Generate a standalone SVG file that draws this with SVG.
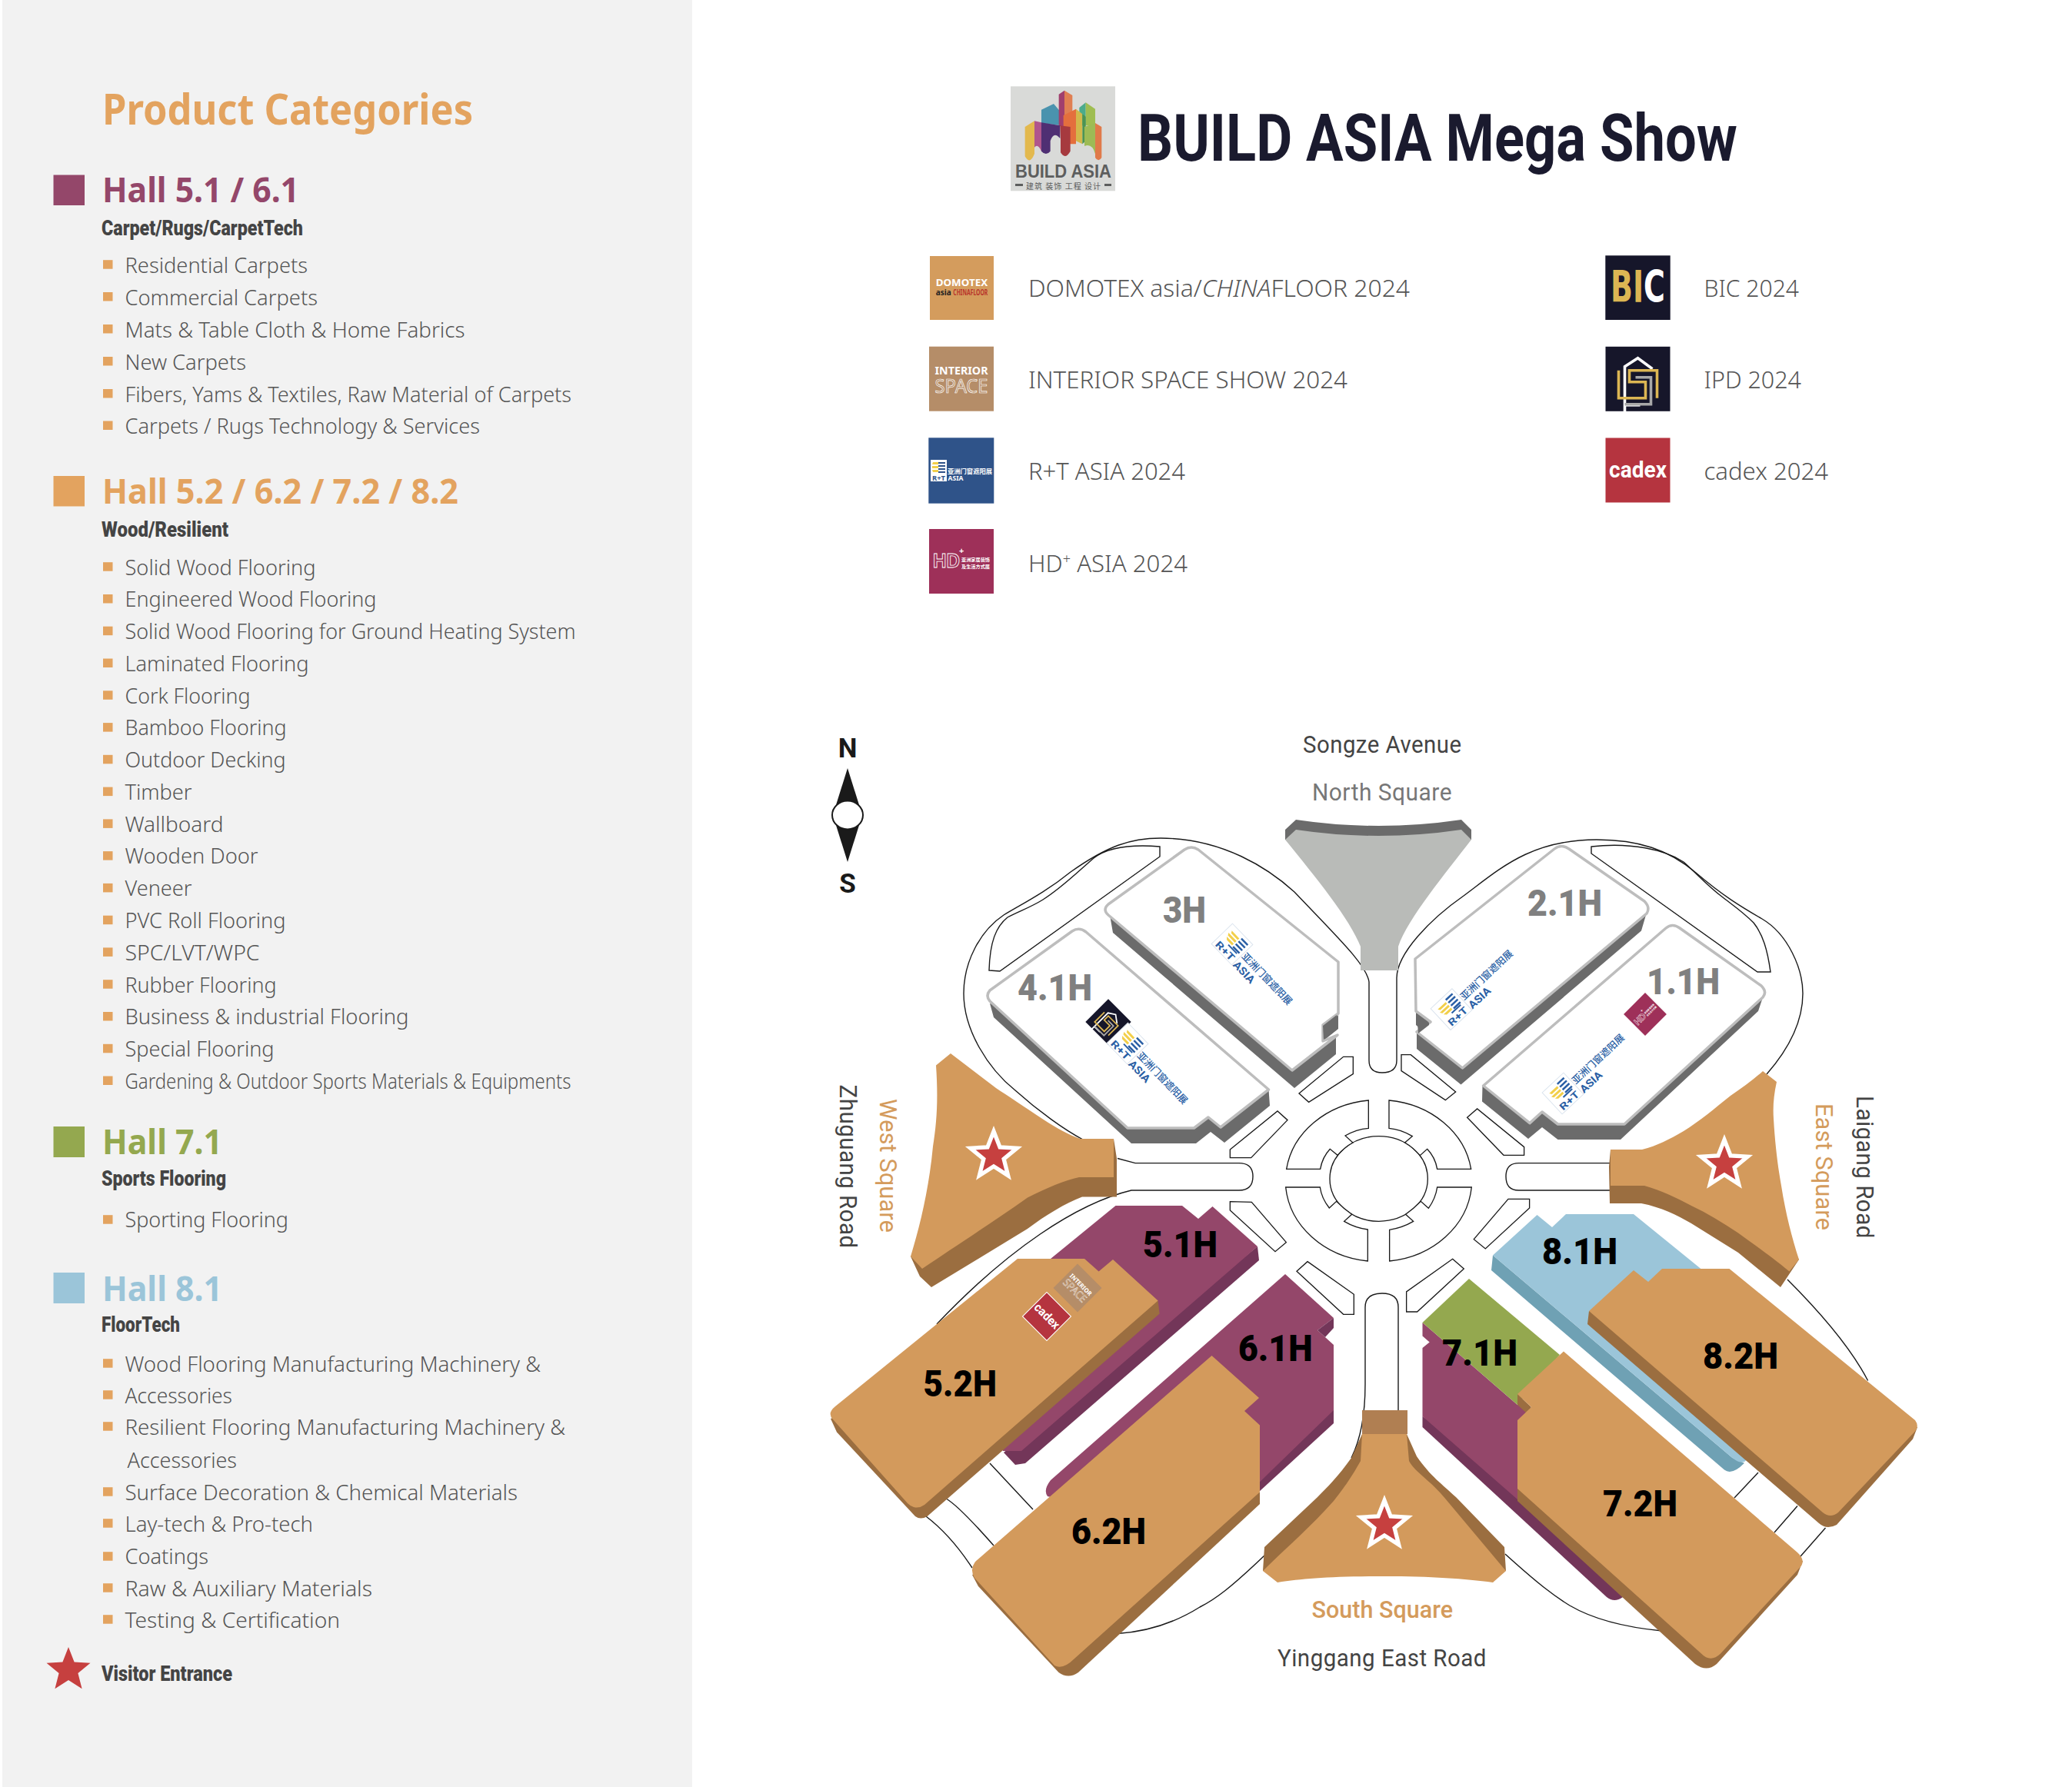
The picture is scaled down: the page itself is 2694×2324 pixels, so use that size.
<svg xmlns="http://www.w3.org/2000/svg" width="2694" height="2324" viewBox="0 0 2694 2324">
<style>
text{font-family:"Noto Sans","Liberation Sans",sans-serif}
.ttl{font-size:55px;font-weight:700;fill:#e3a35f}
.hl{font-size:45px;font-weight:700}
.sub{font-family:Roboto,"Liberation Sans",sans-serif;font-size:28px;font-weight:900;fill:#444}
.i{font-size:28px;font-weight:300;fill:#555}
.b{fill:#e3a35f}
.sw{fill:#e3a35f}
.lab{font-size:31px;font-weight:300;fill:#555}
.road{font-family:Roboto,"Liberation Sans",sans-serif;font-size:31px;fill:#444;letter-spacing:.5px}
.sq{font-family:Roboto,"Liberation Sans",sans-serif;font-size:31px;fill:#d49b5c;font-weight:500}
.hg{font-family:Roboto,"Liberation Sans",sans-serif;font-size:48px;font-weight:900;fill:#808080}
.hb{font-family:Roboto,"Liberation Sans",sans-serif;font-size:48px;font-weight:900;fill:#000}
.out{fill:none;stroke:#1a1a1a;stroke-width:1.4}
.blk{fill:#fff;stroke:#1a1a1a;stroke-width:4}
.wt{fill:#fff;stroke:#bdbdbd;stroke-width:3.5;stroke-linejoin:round}
.gs{fill:#6b6b6b}
.or{fill:#d39a5c}
.ors{fill:#9b6e40}
.pu{fill:#94476a}
.pus{fill:#733659}
.star{fill:#c6403f}
.st2{fill:#c6403f;stroke:#fff;stroke-width:5}
.rtc{fill:#2a5fa5;font-family:"Noto Sans CJK SC","Noto Sans",sans-serif;font-weight:500}
.wh{fill:#fff}
.wb{fill:#fff;font-family:"Noto Sans CJK SC","Noto Sans",sans-serif;font-weight:700}
</style>
<defs>
<rect id="bl" width="12.5" height="11.5" class="b"/>
<polygon id="starp" points="0,-30 7.6,-10.5 28.5,-9.3 12.4,4 17.6,24.3 0,13 -17.6,24.3 -12.4,4 -28.5,-9.3 -7.6,-10.5"/>
<g id="ipdm">
<rect x="-42" y="-42" width="84" height="84" fill="#16162a"/>
<path d="M-17,33V-36L0,-47 19,-33" transform="translate(0,20)" fill="none" stroke="#fff" stroke-width="3.6"/>
<path d="M-17,53H3" fill="none" stroke="#fff" stroke-width="3.6" transform="translate(0,-19)"/>
<path d="M-25,-11V25H10V4H-11V-11H25V25" fill="none" stroke="#dcb653" stroke-width="3.6"/>
<path d="M-3,-2H17V33H-17" fill="none" stroke="#a8a8a8" stroke-width="3.6"/>
</g>
<g id="rtm">
<rect x="-19" y="-19" width="38" height="38" fill="#fff" stroke="#dbe4ee" stroke-width="1"/>
<path d="M-13,-12H1V-9H-11ZM-14,-7H1V-4H-12ZM-12,-2H1V1H-9Z" fill="#f2cf4a"/>
<path d="M3,-15H15V-12.500H3ZM3,-10H15V-7.500H3ZM3,-5H15V-2.500H3ZM3,0H15V2.500H3ZM-3,3H13V5H-3Z" fill="#2a5fa5"/>
<text x="0" y="17" text-anchor="middle" font-size="12.500" font-weight="700" fill="#2a5fa5" textLength="30" lengthAdjust="spacingAndGlyphs" style="font-family:Roboto,sans-serif">R+T</text>
<text x="20" y="3" font-size="12.500" class="rtc" textLength="88" lengthAdjust="spacingAndGlyphs">亚洲门窗遮阳展</text>
<text x="20" y="19" font-size="14" font-weight="700" fill="#2a5fa5" textLength="34" lengthAdjust="spacingAndGlyphs" style="font-family:Roboto,sans-serif">ASIA</text>
</g>
<g id="hdm">
<rect x="-42" y="-42" width="84" height="84" fill="#9e3059"/>
<text x="-37" y="8" font-size="26" font-weight="700" fill="none" stroke="#fff" stroke-width=".9" textLength="35" lengthAdjust="spacingAndGlyphs" style="font-family:'Liberation Sans',sans-serif">HD</text>
<text x="-3" y="-10" font-size="11" fill="#fff" font-weight="700">+</text>
<text x="0" y="0" font-size="6.200" class="wb" textLength="37" lengthAdjust="spacingAndGlyphs">亚洲家居装饰</text>
<text x="0" y="9" font-size="6.200" class="wb" textLength="37" lengthAdjust="spacingAndGlyphs">及生活方式展</text>
</g>
<g id="intm">
<rect x="-42" y="-42" width="84" height="84" fill="#b58d68"/>
<text x="0" y="-6" text-anchor="middle" font-size="15" font-weight="700" fill="#fff" textLength="69" lengthAdjust="spacingAndGlyphs">INTERIOR</text>
<text x="0" y="18" text-anchor="middle" font-size="26" fill="none" stroke="#fff" stroke-width=".7" textLength="69" lengthAdjust="spacingAndGlyphs">SPACE</text>
</g>
<g id="cadm">
<rect x="-42" y="-42" width="84" height="84" fill="#b5343f"/>
<text x="0" y="9" text-anchor="middle" font-size="30" font-weight="700" fill="#fff" textLength="75" lengthAdjust="spacingAndGlyphs" style="font-family:Roboto,sans-serif">cadex</text>
</g>
</defs>
<rect width="2694" height="2324" fill="#fff"/>

<g id="panel">
<rect x="3" y="0" width="897" height="2324" fill="#f2f2f2"/>
<text x="133" y="162" class="ttl" textLength="482" lengthAdjust="spacingAndGlyphs">Product Categories</text>
</g>

<g id="legend-hall-5-1">
<rect x="69.500" y="227.500" width="40.500" height="39.500" fill="#94476a"/>
<text x="133" y="263" class="hl" fill="#94476a" textLength="256" lengthAdjust="spacingAndGlyphs">Hall 5.1 / 6.1</text>
<text x="132" y="305.500" class="sub" textLength="262" lengthAdjust="spacingAndGlyphs">Carpet/Rugs/CarpetTech</text>
<use href="#bl" x="134" y="338.200"/><text x="162.500" y="354.500" class="i" textLength="237.500" lengthAdjust="spacingAndGlyphs">Residential Carpets</text>
<use href="#bl" x="134" y="380"/><text x="162.500" y="396.500" class="i" textLength="250.500" lengthAdjust="spacingAndGlyphs">Commercial Carpets</text>
<use href="#bl" x="134" y="422"/><text x="162.500" y="438.500" class="i" textLength="442" lengthAdjust="spacingAndGlyphs">Mats &amp; Table Cloth &amp; Home Fabrics</text>
<use href="#bl" x="134" y="464"/><text x="162.500" y="480.500" class="i" textLength="157.500" lengthAdjust="spacingAndGlyphs">New Carpets</text>
<use href="#bl" x="134" y="506"/><text x="162.500" y="522.500" class="i" textLength="580.500" lengthAdjust="spacingAndGlyphs">Fibers, Yams &amp; Textiles, Raw Material of Carpets</text>
<use href="#bl" x="134" y="547.500"/><text x="162.500" y="563.500" class="i" textLength="461.500" lengthAdjust="spacingAndGlyphs">Carpets / Rugs Technology &amp; Services</text>
</g>

<g id="legend-hall-5-2">
<rect x="69.500" y="619" width="40.500" height="39.500" class="sw"/>
<text x="133" y="655" class="hl" fill="#e3a35f" textLength="463" lengthAdjust="spacingAndGlyphs">Hall 5.2 / 6.2 / 7.2 / 8.2</text>
<text x="132" y="698" class="sub" textLength="165" lengthAdjust="spacingAndGlyphs">Wood/Resilient</text>
<use href="#bl" x="134" y="731.200"/><text x="162.500" y="747.500" class="i" textLength="248" lengthAdjust="spacingAndGlyphs">Solid Wood Flooring</text>
<use href="#bl" x="134" y="773"/><text x="162.500" y="789.300" class="i" textLength="327" lengthAdjust="spacingAndGlyphs">Engineered Wood Flooring</text>
<use href="#bl" x="134" y="814.700"/><text x="162.500" y="831" class="i" textLength="586" lengthAdjust="spacingAndGlyphs">Solid Wood Flooring for Ground Heating System</text>
<use href="#bl" x="134" y="856.500"/><text x="162.500" y="872.800" class="i" textLength="239" lengthAdjust="spacingAndGlyphs">Laminated Flooring</text>
<use href="#bl" x="134" y="898.300"/><text x="162.500" y="914.600" class="i" textLength="163" lengthAdjust="spacingAndGlyphs">Cork Flooring</text>
<use href="#bl" x="134" y="940.100"/><text x="162.500" y="956.400" class="i" textLength="210" lengthAdjust="spacingAndGlyphs">Bamboo Flooring</text>
<use href="#bl" x="134" y="981.800"/><text x="162.500" y="998.100" class="i" textLength="209" lengthAdjust="spacingAndGlyphs">Outdoor Decking</text>
<use href="#bl" x="134" y="1023.600"/><text x="162.500" y="1039.900" class="i" textLength="87" lengthAdjust="spacingAndGlyphs">Timber</text>
<use href="#bl" x="134" y="1065.400"/><text x="162.500" y="1081.700" class="i" textLength="128" lengthAdjust="spacingAndGlyphs">Wallboard</text>
<use href="#bl" x="134" y="1107.100"/><text x="162.500" y="1123.400" class="i" textLength="173" lengthAdjust="spacingAndGlyphs">Wooden Door</text>
<use href="#bl" x="134" y="1148.900"/><text x="162.500" y="1165.200" class="i" textLength="87" lengthAdjust="spacingAndGlyphs">Veneer</text>
<use href="#bl" x="134" y="1190.700"/><text x="162.500" y="1207" class="i" textLength="209" lengthAdjust="spacingAndGlyphs">PVC Roll Flooring</text>
<use href="#bl" x="134" y="1232.400"/><text x="162.500" y="1248.700" class="i" textLength="175" lengthAdjust="spacingAndGlyphs">SPC/LVT/WPC</text>
<use href="#bl" x="134" y="1274.200"/><text x="162.500" y="1290.500" class="i" textLength="197" lengthAdjust="spacingAndGlyphs">Rubber Flooring</text>
<use href="#bl" x="134" y="1316"/><text x="162.500" y="1332.300" class="i" textLength="369" lengthAdjust="spacingAndGlyphs">Business &amp; industrial Flooring</text>
<use href="#bl" x="134" y="1357.800"/><text x="162.500" y="1374.100" class="i" textLength="194" lengthAdjust="spacingAndGlyphs">Special Flooring</text>
<use href="#bl" x="134" y="1399.500"/><text x="162.500" y="1415.800" class="i" textLength="580" lengthAdjust="spacingAndGlyphs">Gardening &amp; Outdoor Sports Materials &amp; Equipments</text>
</g>

<g id="legend-hall-7-1">
<rect x="69.500" y="1465" width="40.500" height="40" fill="#94a84f"/>
<text x="133" y="1501" class="hl" fill="#94a84f" textLength="156" lengthAdjust="spacingAndGlyphs">Hall 7.1</text>
<text x="132" y="1542" class="sub" textLength="162" lengthAdjust="spacingAndGlyphs">Sports Flooring</text>
<use href="#bl" x="134" y="1580.200"/><text x="162.500" y="1596" class="i" textLength="212.500" lengthAdjust="spacingAndGlyphs">Sporting Flooring</text>
</g>

<g id="legend-hall-8-1">
<rect x="69.500" y="1655" width="40.500" height="40" fill="#9bc5d9"/>
<text x="133" y="1692" class="hl" fill="#9bc5d9" textLength="156" lengthAdjust="spacingAndGlyphs">Hall 8.1</text>
<text x="132" y="1732" class="sub" textLength="102" lengthAdjust="spacingAndGlyphs">FloorTech</text>
<use href="#bl" x="134" y="1767.200"/><text x="162.500" y="1783.500" class="i" textLength="540.500" lengthAdjust="spacingAndGlyphs">Wood Flooring Manufacturing Machinery &amp;</text>
<use href="#bl" x="134" y="1808.200"/><text x="162.500" y="1824.500" class="i" textLength="139.500" lengthAdjust="spacingAndGlyphs">Accessories</text>
<use href="#bl" x="134" y="1849.200"/><text x="162.500" y="1865.500" class="i" textLength="572.500" lengthAdjust="spacingAndGlyphs">Resilient Flooring Manufacturing Machinery &amp;</text>
<text x="165.500" y="1908.500" class="i" textLength="142.500" lengthAdjust="spacingAndGlyphs">Accessories</text>
<use href="#bl" x="134" y="1934.200"/><text x="162.500" y="1950.500" class="i" textLength="510.500" lengthAdjust="spacingAndGlyphs">Surface Decoration &amp; Chemical Materials</text>
<use href="#bl" x="134" y="1975.200"/><text x="162.500" y="1991.500" class="i" textLength="244.500" lengthAdjust="spacingAndGlyphs">Lay-tech &amp; Pro-tech</text>
<use href="#bl" x="134" y="2018.200"/><text x="162.500" y="2034" class="i" textLength="108.500" lengthAdjust="spacingAndGlyphs">Coatings</text>
<use href="#bl" x="134" y="2059.200"/><text x="162.500" y="2075.500" class="i" textLength="321.500" lengthAdjust="spacingAndGlyphs">Raw &amp; Auxiliary Materials</text>
<use href="#bl" x="134" y="2100.200"/><text x="162.500" y="2117" class="i" textLength="279.500" lengthAdjust="spacingAndGlyphs">Testing &amp; Certification</text>
</g>

<g id="legend-entrance">
<use href="#starp" class="star" transform="translate(89,2172)"/>
<text x="132" y="2186" class="sub" textLength="170" lengthAdjust="spacingAndGlyphs">Visitor Entrance</text>
</g>

<g id="build-asia-logo">
<rect x="1314" y="112.300" width="136" height="136" fill="#d9dad8"/>
<g transform="translate(1300,100) scale(.3333)">
<polygon points="162,128 210,105 240,140 240,190 162,180" fill="#4a93ae"/>
<polygon points="230,68 252,53 252,192 230,192" fill="#a03f6d"/>
<polygon points="252,53 283,72 283,135 252,150" fill="#e07f52"/>
<polygon points="310,120 335,100 335,190 310,190" fill="#4cab8c"/>
<polygon points="335,100 372,125 372,190 335,190" fill="#9fbd52"/>
<polygon points="248,150 297,125 297,262 248,262" fill="#e46f3d"/>
<polygon points="297,125 322,145 322,262 297,250" fill="#d2b84b"/>
<polygon points="322,145 335,155 335,250 322,262" fill="#4c9453"/>
<path d="M98,195L135,172V300Q117,345 98,310Z" fill="#e3b94e"/>
<path d="M135,172L162,178V290Q148,258 135,275Z" fill="#b0558d"/>
<path d="M162,178L235,190V240Q210,210 197,250V290Q180,310 162,290Z" fill="#4f2f73"/>
<path d="M235,190L275,195V290Q255,325 237,295V240Z" fill="#a63a3f"/>
<path d="M330,195L372,180V300Q360,258 330,270Z" fill="#9dbb55"/>
<path d="M372,180L397,195V315Q385,335 372,315Z" fill="#e07a4a"/>
</g>
<text x="1320" y="231" font-size="23.500" font-weight="700" fill="#5d5e5e" textLength="125" lengthAdjust="spacingAndGlyphs" style="font-family:'Liberation Sans',sans-serif">BUILD ASIA</text>
<rect x="1320" y="239" width="10" height="3" fill="#5d5e5e"/><rect x="1436" y="239" width="9" height="3" fill="#5d5e5e"/>
<text x="1334" y="245.500" font-size="10" fill="#5d5e5e" textLength="97" lengthAdjust="spacing" style="font-family:'Noto Sans CJK SC',sans-serif">建筑 装饰 工程 设计</text>
</g>
<g id="title"><text x="1479" y="208.500" font-size="85" font-weight="700" fill="#1a1a2e" textLength="780" lengthAdjust="spacingAndGlyphs" style="font-family:Roboto,'Liberation Sans',sans-serif">BUILD ASIA Mega Show</text></g>

<g id="show-domotex">
<rect x="1209" y="333" width="83" height="83" fill="#d49c5d"/>
<text x="1216.700" y="371.500" font-size="12.500" font-weight="700" fill="#fff" textLength="67.500" lengthAdjust="spacingAndGlyphs">DOMOTEX</text>
<text x="1216.700" y="384" font-size="11" font-weight="700" fill="#222" textLength="20" lengthAdjust="spacingAndGlyphs">asia</text>
<text x="1239.300" y="384" font-size="10" font-weight="700" fill="#b8342b" textLength="45" lengthAdjust="spacingAndGlyphs">CHINAFLOOR</text>
<text x="1337" y="385.500" class="lab" textLength="496" lengthAdjust="spacingAndGlyphs">DOMOTEX asia/<tspan font-style="italic">CHINA</tspan>FLOOR 2024</text>
</g>
<g id="show-interior">
<use href="#intm" transform="translate(1250,492.700)"/>
<text x="1337" y="504.500" class="lab" textLength="415" lengthAdjust="spacingAndGlyphs">INTERIOR SPACE SHOW 2024</text>
</g>
<g id="show-rt">
<rect x="1207.300" y="569.300" width="85" height="85.400" fill="#2f5389"/>
<rect x="1210" y="598" width="21" height="28" fill="#fff"/>
<path d="M1213,601H1220V604H1212ZM1212,606H1220V609H1212ZM1212,611H1220V614H1213Z" fill="#f2cf4a"/>
<path d="M1220,601H1229V603H1220ZM1220,605H1229V607H1220ZM1220,609H1229V611H1220ZM1220,613H1229V615H1220Z" fill="#2f5389"/>
<text x="1212" y="625" font-size="9.500" font-weight="700" fill="#2f5389" textLength="17" lengthAdjust="spacingAndGlyphs">R+T</text>
<text x="1232" y="616" font-size="8.400" class="wb" textLength="58" lengthAdjust="spacingAndGlyphs">亚洲门窗遮阳展</text>
<text x="1232.500" y="625" font-size="9.500" font-weight="700" fill="#fff" textLength="20" lengthAdjust="spacingAndGlyphs">ASIA</text>
<text x="1337" y="624" class="lab" textLength="204" lengthAdjust="spacingAndGlyphs">R+T ASIA 2024</text>
</g>
<g id="show-hd">
<use href="#hdm" transform="translate(1250,730)"/>
<text x="1337" y="743.500" class="lab" textLength="207" lengthAdjust="spacingAndGlyphs">HD<tspan font-size="18" dy="-11">+</tspan><tspan dy="11"> ASIA 2024</tspan></text>
</g>
<g id="show-bic">
<rect x="2087.300" y="332.300" width="84.400" height="83.700" fill="#16162a"/>
<text transform="translate(2094,393) scale(1,1.500)" font-size="38" font-weight="700" style="font-family:'DejaVu Sans',sans-serif" fill="#dcb653">BI<tspan fill="#fff">C</tspan></text>
<text x="2215.500" y="385.500" class="lab" textLength="123.500" lengthAdjust="spacingAndGlyphs">BIC 2024</text>
</g>
<g id="show-ipd">
<use href="#ipdm" transform="translate(2129.500,492.800)"/>
<text x="2215.500" y="504.500" class="lab" textLength="126.500" lengthAdjust="spacingAndGlyphs">IPD 2024</text>
</g>
<g id="show-cadex">
<use href="#cadm" transform="translate(2129.500,611.500)"/>
<text x="2215.500" y="624" class="lab" textLength="161.500" lengthAdjust="spacingAndGlyphs">cadex 2024</text>
</g>

<g id="compass">
<text x="1102" y="985" text-anchor="middle" font-size="35" font-weight="700" fill="#1a1a1a" style="font-family:Roboto,sans-serif">N</text>
<polygon points="1102,999 1118,1050 1118,1070 1102,1121 1086,1070 1086,1050" fill="#1a1a1a"/>
<ellipse cx="1102" cy="1060" rx="20" ry="18.500" fill="#fff" stroke="#1a1a1a" stroke-width="2"/>
<text x="1102" y="1161" text-anchor="middle" font-size="35" font-weight="700" fill="#1a1a1a" style="font-family:Roboto,sans-serif">S</text>
</g>

<g id="map-labels">
<text x="1694" y="978.500" class="road" textLength="206.500" lengthAdjust="spacingAndGlyphs">Songze Avenue</text>
<text x="1706" y="1040.500" class="road" style="fill:#777" textLength="182" lengthAdjust="spacingAndGlyphs">North Square</text>
<text x="1705.600" y="2104" class="sq" textLength="183.400" lengthAdjust="spacingAndGlyphs">South Square</text>
<text x="1661" y="2166.500" class="road" textLength="272" lengthAdjust="spacingAndGlyphs">Yinggang East Road</text>
<text transform="translate(1144,1429) rotate(90)" class="sq" style="font-weight:400" textLength="174" lengthAdjust="spacingAndGlyphs">West Square</text>
<text transform="translate(1092,1410.600) rotate(90)" class="road" textLength="213" lengthAdjust="spacingAndGlyphs">Zhuguang Road</text>
<text transform="translate(2361,1435) rotate(90)" class="sq" style="font-weight:400" textLength="165" lengthAdjust="spacingAndGlyphs">East Square</text>
<text transform="translate(2414,1425) rotate(90)" class="road" textLength="186" lengthAdjust="spacingAndGlyphs">Laigang Road</text>
</g>

<g id="connectors">
<path class="out" d="M1408,1482C1385,1470 1350,1445 1320,1418C1285,1390 1253,1340 1253,1292C1253,1250 1275,1210 1305,1190C1330,1175 1360,1160 1392,1134C1440,1100 1470,1090 1509,1090C1590,1090 1650,1130 1683,1160C1740,1220 1777,1255 1780,1277V1379Q1780,1395 1797,1395Q1816,1395 1816,1379V1272C1816,1240 1860,1195 1903,1165C1950,1130 1990,1092 2076,1092C2130,1092 2170,1105 2205,1135C2240,1165 2265,1180 2291,1195C2325,1215 2344,1260 2344,1292C2344,1330 2325,1365 2297,1397"/>
<path class="out" d="M1286,1262L1300,1263L1508,1114V1101C1470,1098 1440,1102 1422,1116C1400,1135 1380,1155 1356,1170C1340,1180 1325,1185 1310,1193C1295,1205 1287,1225 1286,1262Z"/>
<path class="out" d="M2069,1101V1110L2285,1264H2302C2298,1235 2292,1215 2280,1200C2265,1185 2250,1175 2240,1167C2220,1152 2205,1135 2189,1121C2165,1105 2120,1095 2069,1101Z"/>
<path class="out" d="M1453,1506.500L1476,1512.600H1611Q1629,1512.600 1629,1530Q1629,1548 1611,1548H1471C1400,1565 1310,1625 1218,1722"/>
<path class="out" d="M2093,1512.600H1974.500Q1958,1512.600 1958,1530Q1958,1548 1974.500,1548H2093"/>
<path class="out" d="M1757,1896C1770,1870 1775,1840 1775,1800V1700Q1775,1682 1797,1682Q1818,1682 1818,1700V1834"/>
<path class="out" d="M2324,1664C2360,1700 2405,1750 2428.600,1795.500"/>
<path class="out" d="M1644,2023C1600,2065 1580,2080 1560,2090C1525,2112 1490,2122 1453,2124.500"/>
<path class="out" d="M1957,2021C2000,2060 2020,2075 2041,2088C2070,2105 2110,2116 2161,2121"/>
<path class="out" d="M1287,1903L1343,1963M1231,1949.500C1245,1958 1270,1985 1292,2010M1204,1972C1225,1988 1245,2010 1264,2039"/>
<path class="out" d="M2286,1915L2255,1948M2337,1958.500L2307,1993M2373.500,1987L2341,2024"/>
<g transform="translate(1600,1350) scale(.3333)">
<ellipse class="blk" cx="578" cy="549" rx="191" ry="166"/>
<path class="blk" d="M538,243A362,315 0 0 0 218,511H350Q358,465 388,433L417,457Q445,425 477,408L447,381Q490,356 538,352Z"/>
<path class="blk" d="M618,243A362,315 0 0 1 938,511H806Q798,465 767,433L739,458Q710,425 680,408L709,383Q665,356 618,352Z"/>
<path class="blk" d="M215,582A362,320 0 0 0 535,870V747Q485,740 443,715L473,688Q440,665 413,637L385,663Q355,625 349,582Z"/>
<path class="blk" d="M940,582A362,320 0 0 1 620,870V748Q670,740 713,715L683,688Q715,665 742,637L772,664Q800,625 806,582Z"/>
<polygon class="blk" points="267,216 440,73 478,73 478,140 305,250"/>
<polygon class="blk" points="666,65 703,65 878,210 838,242 666,128"/>
<polygon class="blk" points="-2,435 183,285 222,320 80,467 -2,467"/>
<polygon class="blk" points="923,310 962,276 1145,425 1145,457 1065,457"/>
<polygon class="blk" points="-2,638 82,640 217,797 174,833 -2,672"/>
<polygon class="blk" points="1083,628 1166,628 1166,663 994,822 949,785"/>
<polygon class="blk" points="300,872 481,1000 481,1078 440,1078 258,910"/>
<polygon class="blk" points="866,862 910,900 728,1068 686,1068 686,990"/>
</g>
</g>

<g id="north-square">
<path d="M1671,1092V1079L1685,1066Q1792,1082 1900,1066L1913,1079V1092Z" class="gs"/>
<path d="M1671,1092L1685,1079Q1792,1095 1900,1079L1913,1092C1880,1135 1830,1195 1818,1231V1262H1769V1231C1755,1195 1710,1140 1671,1092Z" fill="#b9bbb8"/>
</g>

<g id="hall-3h">
<polygon class="gs" points="1443,1190 1447,1213 1683,1415 1737,1371 1737,1346 1680,1392"/>
<polygon class="gs" points="1720,1333 1740,1318 1740,1338 1720,1354"/>
<path class="wt" d="M1441,1190Q1433,1183 1441,1176L1540,1105Q1549,1099 1558,1105L1740,1251V1318L1720,1333V1354L1739,1346L1680,1392Z"/>
<polygon class="gs" points="1720,1334 1738,1320 1738,1339 1721,1352"/>
<text x="1512" y="1200" class="hg" textLength="56" lengthAdjust="spacingAndGlyphs">3H</text>
<use href="#rtm" transform="translate(1602,1228) rotate(46)"/>
</g>
<g id="hall-41h">
<polygon class="gs" points="1287,1305 1292,1323 1471,1487 1555,1487 1574,1472 1592,1486 1651,1438 1649.500,1417"/>
<path class="wt" d="M1287,1302Q1281,1295 1287,1288L1394,1211Q1403,1205 1412,1212L1649.500,1417L1587,1466L1571,1453L1552.500,1467H1466Z"/>
<text x="1323" y="1301" class="hg" textLength="97" lengthAdjust="spacingAndGlyphs">4.1H</text>
<use href="#ipdm" transform="translate(1441,1329) rotate(45) scale(.5)"/>
<use href="#rtm" transform="translate(1466,1357) rotate(46)"/>
</g>
<g id="hall-21h">
<polygon class="gs" points="2140,1190 2134,1210.600 1899.500,1410.600 1842,1364 1842,1343 1901.500,1389"/>
<polygon class="gs" points="1841,1315 1860,1329 1860,1349 1841,1333"/>
<path class="wt" d="M1840,1247L2021,1104Q2030,1097 2040,1104L2138,1172Q2146,1180 2141,1188L1901.500,1389L1842,1342L1860,1329L1841,1315Z"/>
<polygon class="gs" points="1842,1318 1858,1330 1858,1333 1844,1344"/>
<text x="1986" y="1191" class="hg" textLength="97" lengthAdjust="spacingAndGlyphs">2.1H</text>
<use href="#rtm" transform="translate(1887,1312.600) rotate(-43)"/>
</g>
<g id="hall-11h">
<polygon class="gs" points="1927.500,1412 1927,1432.500 1987,1481 2005,1466 2025.500,1482 2107,1482 2286,1315 2292,1297"/>
<path class="wt" d="M1928.600,1412L2166,1207Q2174.500,1200 2184,1207L2290,1282Q2298,1290 2292,1297L2112,1462H2025.500L2005,1446L1989,1460.600Z"/>
<text x="2141" y="1293" class="hg" textLength="95" lengthAdjust="spacingAndGlyphs">1.1H</text>
<use href="#hdm" transform="translate(2139,1319) rotate(-45) scale(.47)"/>
<use href="#rtm" transform="translate(2032,1422) rotate(-43)"/>
</g>

<g id="west-square">
<path class="ors" d="M1184,1634L1196,1660L1211,1674L1336,1598C1360,1580 1385,1565 1407,1556.500H1452V1506.500L1448,1481L1300,1500Z"/>
<path class="or" d="M1236,1370L1217,1385.600C1220,1430 1218,1460 1213,1491C1208,1545 1196,1595 1184,1634L1199,1650C1240,1622 1290,1590 1336,1557.500C1360,1545 1385,1535 1403,1531H1448V1481H1404.600C1390,1476 1375,1468 1356,1455.500C1330,1438 1310,1425 1295,1415Z"/>
<use href="#starp" class="st2" transform="translate(1292,1503) scale(1.060)"/>
</g>
<g id="east-square">
<path class="ors" d="M2094,1495L2092,1517L2093,1565H2134C2160,1570 2180,1580 2199,1591L2260,1629L2315,1674L2339,1638L2240,1500Z"/>
<path class="or" d="M2292,1393L2310,1407C2306,1425 2305,1440 2306,1455C2308,1490 2312,1520 2316,1542C2322,1580 2330,1610 2339,1638L2326.500,1653.500C2300,1632 2280,1618 2260,1603.500C2240,1590 2220,1578 2199,1568C2180,1558 2160,1548 2138,1542H2094V1495H2135C2155,1490 2170,1482 2189,1471C2210,1458 2230,1441 2250,1425C2265,1415 2280,1404 2292,1393Z"/>
<use href="#starp" class="st2" transform="translate(2242,1514) scale(1.060)"/>
</g>
<g id="south-square">
<path class="ors" d="M1771,1865L1757,1896C1740,1920 1725,1935 1713,1947L1644,2012L1642,2043L1800,2000Z"/>
<path class="ors" d="M1829,1865L1842,1894C1860,1920 1875,1930 1893,1947L1956,2012L1958,2043L1800,2000Z"/>
<rect x="1771" y="1834" width="59" height="31" fill="#b07f52"/>
<path class="or" d="M1771,1865L1769,1900C1755,1925 1745,1938 1734,1952C1700,1990 1670,2015 1642,2043L1661,2058C1695,2053 1730,2050 1801,2050C1860,2050 1905,2053 1941,2058L1958,2043L1880,1950C1860,1925 1840,1915 1832,1900L1829,1865Z"/>
<use href="#starp" class="st2" transform="translate(1800,1983) scale(1.060)"/>
</g>

<g id="hall-51h">
<polygon class="pus" points="1635,1621 1637,1639 1333,1903 1320,1905 1305,1889"/>
<path class="pu" d="M1366,1637L1450.500,1568H1537L1558,1585L1576.500,1569L1635,1621L1328,1887H1304L1290,1800Z"/>
<text x="1486" y="1635" class="hb" textLength="97" lengthAdjust="spacingAndGlyphs">5.1H</text>
</g>
<g id="hall-52h">
<path class="ors" d="M1505.600,1691.500L1507.600,1708.500L1205.600,1972Q1197,1977 1190,1972L1088,1862.500L1080,1845Z"/>
<path class="or" d="M1323,1637H1410L1428.600,1653.600L1447,1638L1505.600,1691.500L1202,1957Q1195,1962 1188,1960Q1184,1959 1180,1955L1083,1846Q1075,1838 1086,1829Z"/>
<text x="1200.500" y="1815.600" class="hb" textLength="95.500" lengthAdjust="spacingAndGlyphs">5.2H</text>
<use href="#intm" transform="translate(1401,1675) rotate(45) scale(.53)"/>
<g transform="translate(1361,1712) rotate(45) scale(.53)"><use href="#cadm"/><rect x="-42" y="-42" width="84" height="84" fill="none" stroke="#fff" stroke-width="2"/></g>
</g>
<g id="hall-61h">
<polygon class="pus" points="1734,1833 1734,1851 1637,1940 1620,1940"/>
<path class="pu" d="M1671,1657L1734,1714L1713,1730L1734,1749V1834L1630,1935L1400,1955L1362,1946Q1356,1938 1366,1925Z"/>
<polygon class="pus" points="1734,1714 1734,1727 1723,1739 1713,1730"/>
<text x="1610" y="1769.600" class="hb" textLength="96.600" lengthAdjust="spacingAndGlyphs">6.1H</text>
</g>
<g id="hall-62h">
<path class="ors" d="M1638,1940.600V1956L1402,2175Q1389,2184 1376.500,2175L1272,2063L1264,2048Z"/>
<path class="or" d="M1575.500,1763L1637,1818L1618,1835L1638,1853.600V1940.600L1397,2157Q1382,2172 1371,2166L1267,2052Q1260,2040 1269,2030Z"/>
<text x="1393" y="2007.600" class="hb" textLength="97" lengthAdjust="spacingAndGlyphs">6.2H</text>
</g>
<g id="hall-71h">
<path class="pus" d="M1849.500,1842V1856L2089,2077Q2099,2085 2110,2077L2130,2060L1980,1930Z"/>
<polygon class="pu" points="1849.500,1720 1849.500,1737.500 1858.700,1745.500 1849.500,1753 1849.500,1842 1973,1950 2100,2065 2130,2050 1990,1830 1973,1827"/>
<polygon fill="#94a84f" points="1910,1663 1849.500,1720 1973,1827 2028,1762"/>
<text x="1875" y="1776" class="hb" textLength="98" lengthAdjust="spacingAndGlyphs">7.1H</text>
</g>
<g id="hall-72h">
<path class="ors" d="M1973,1936V1952L2204,2164Q2219,2175 2232,2164L2337,2048L2344,2030Z"/>
<polygon class="ors" points="1973,1813 1991,1830 1985,1838 1973,1827"/>
<path class="or" d="M2033,1757.600L1973,1813L1991,1830L1973,1847V1936L2212,2150.500Q2224,2163 2237,2150.500L2342,2036.600Q2347,2028 2337,2019Z"/>
<text x="2084" y="1972" class="hb" textLength="97" lengthAdjust="spacingAndGlyphs">7.2H</text>
</g>
<g id="hall-81h">
<path d="M1941,1632.600L1939,1652L2242,1911.600Q2252,1919 2268,1902.700L2252.500,1896Z" fill="#6fa1b4"/>
<path d="M1941,1632.600L1998.500,1580L2018,1596L2036,1579H2124L2212,1650.500L2300,1850L2269,1900.500Q2262,1904 2252.500,1896Z" fill="#9bc5d9"/>
<text x="2005" y="1644" class="hb" textLength="98" lengthAdjust="spacingAndGlyphs">8.1H</text>
</g>
<g id="hall-82h">
<path class="ors" d="M2066,1705L2064,1722L2365,1981Q2375,1990 2388,1983L2487,1871.400L2493,1856Z"/>
<path class="or" d="M2066,1705L2124,1652L2143,1667L2161,1650H2248.500L2490,1847Q2496,1855 2489,1862.500L2390,1967Q2380,1975 2370,1967Z"/>
<text x="2214" y="1780" class="hb" textLength="98" lengthAdjust="spacingAndGlyphs">8.2H</text>
</g>
</svg>
